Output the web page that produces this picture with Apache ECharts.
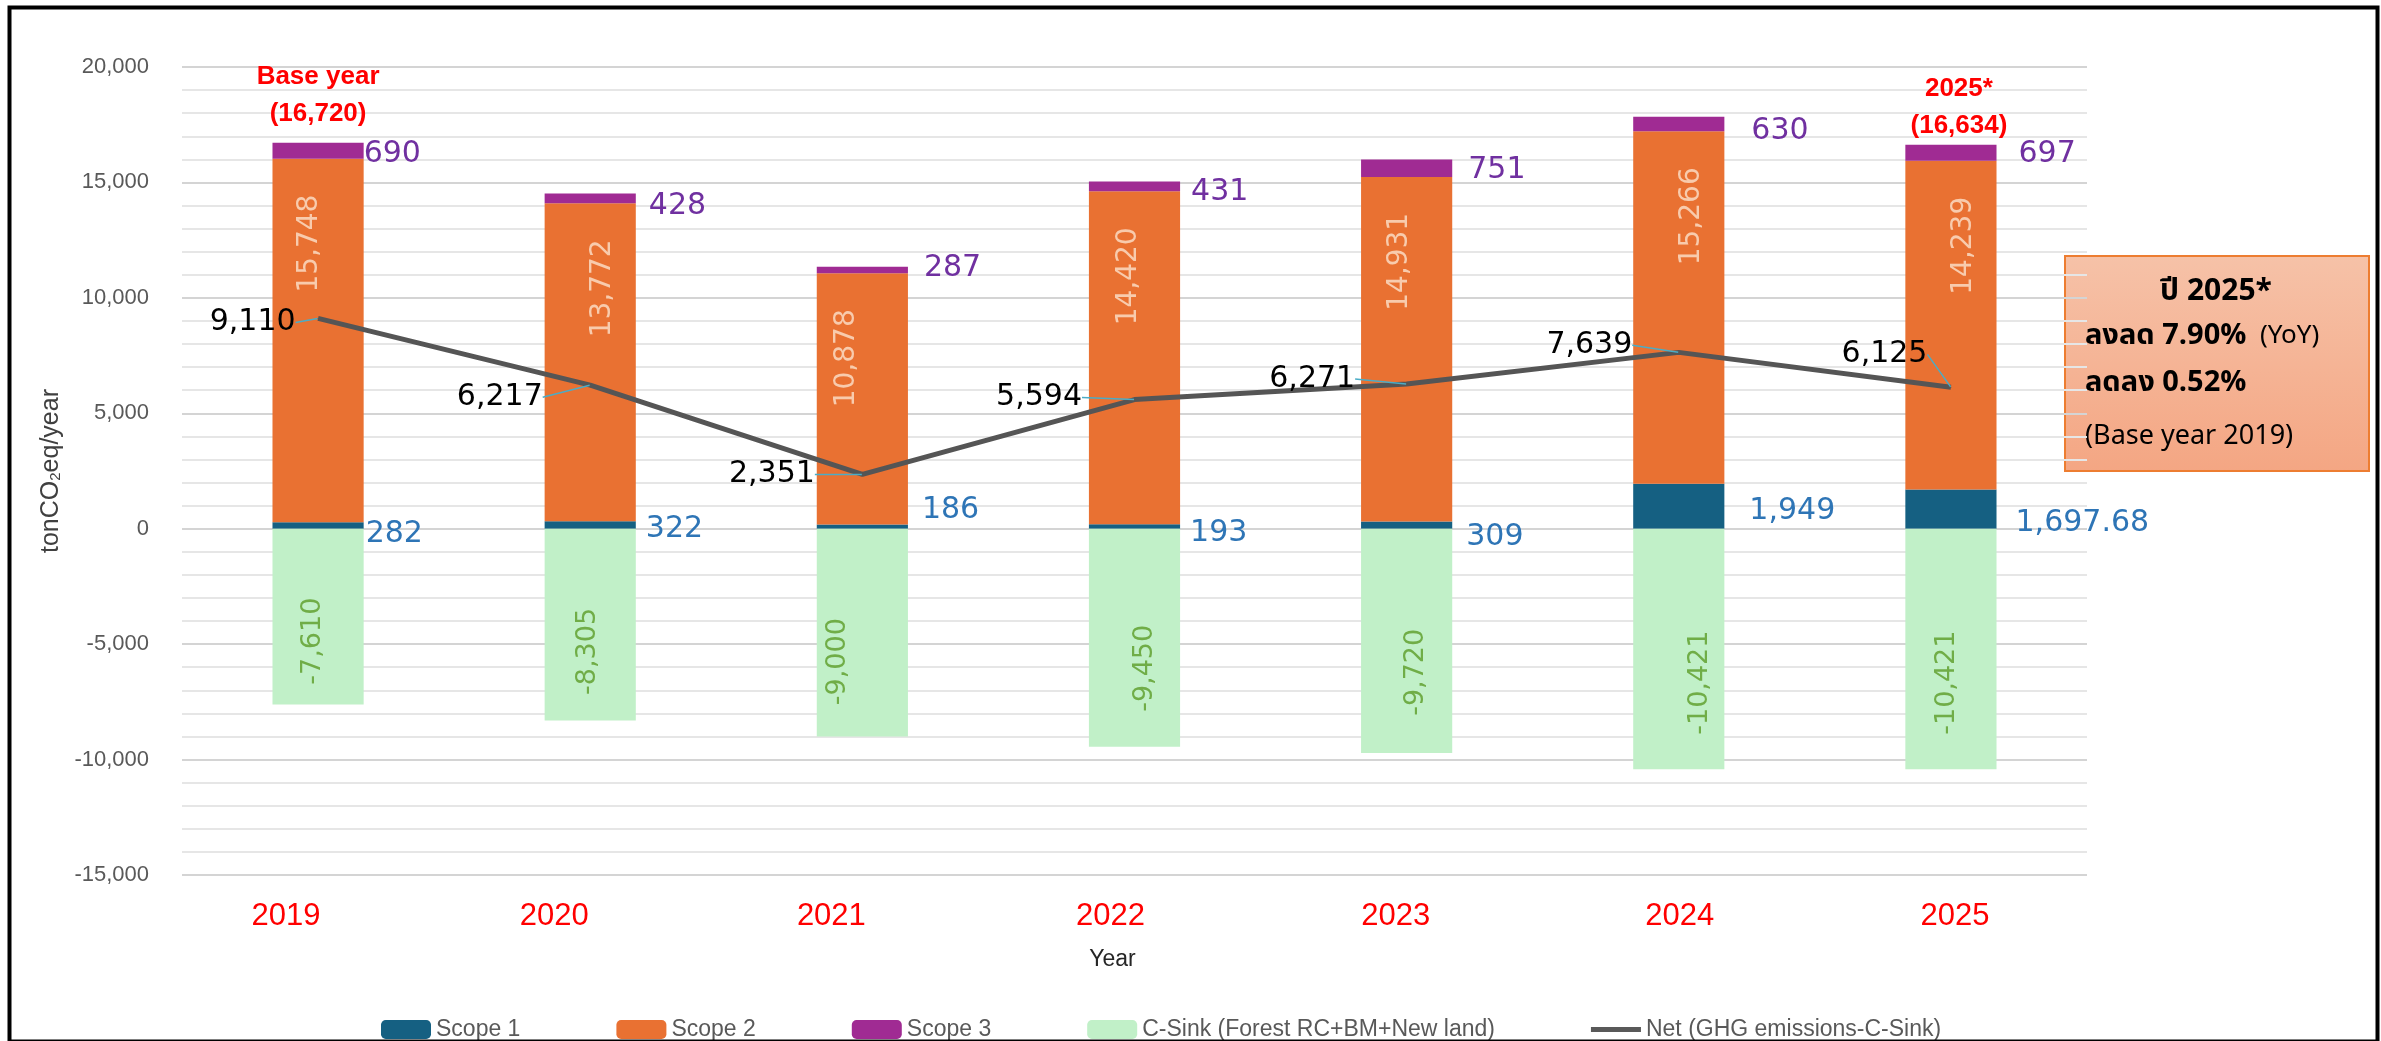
<!DOCTYPE html>
<html>
<head>
<meta charset="utf-8">
<script src="https://cdn.jsdelivr.net/npm/echarts@6/dist/echarts.min.js"></script>
<style>
html,body{margin:0;padding:0;background:#fff;}
#chart{width:2381px;height:1041px;}
</style>
</head>
<body>
<div id="chart"></div>
<script>
// ---- data ----
const categories = ['2019', '2020', '2021', '2022', '2023', '2024', '2025'];
const scope1 = [282, 322, 186, 193, 309, 1949, 1697.68];
const scope2 = [15748, 13772, 10878, 14420, 14931, 15266, 14239];
const scope3 = [690, 428, 287, 431, 751, 630, 697];
const cSink = [-7610, -8305, -9000, -9450, -9720, -10421, -10421];
const net = [9110, 6217, 2351, 5594, 6271, 7639, 6125];
const seriesNames = ['Scope 1', 'Scope 2', 'Scope 3', 'C-Sink (Forest RC+BM+New land)', 'Net (GHG emissions-C-Sink)'];
const yMin = -15000, yMax = 20000, yStep = 5000;
const noteTitle = 'ปี 2025*';
const noteLine1 = ['ลงลด 7.90%', '(YoY)'];
const noteLine2 = 'ลดลง 0.52%';
const noteLine3 = '(Base year 2019)';
const baseYearLabel = 'Base year';
const latestYearLabel = '2025*';

// ---- label nudges (style only, px) ----
const xLabelShift = [-32, -36, -31, -24, -11, 1, 4];
const s1Nudge = [[2, 9], [10, 4], [14, -16], [10, 7], [14, 12], [25, 5], [19, 14]];
const s2Nudge = [-8, 13, -16, -6, -7, 13, 13];
const s3Nudge = [[0, 4], [13, 8], [16, -2], [11, 6], [16, 2], [27, 7], [22, 1]];
const sinkNudge = [-5, -2, -24, 10, 9, 21, -4];
const netNudge = [[-22, 4], [-47, 12], [-47, 0], [-52, -2], [-51, -5], [-46, -7], [-23, -33]];

// ---- helpers ----
const fmt = v => Number(v).toLocaleString('en-US');
const totals = categories.map((c, i) => scope1[i] + scope2[i] + scope3[i]);

const chart = echarts.init(document.getElementById('chart'), null, {renderer: 'canvas'});

const numFont = '"DejaVu Sans", Verdana, sans-serif';
const txtFont = '"Liberation Sans", Arial, sans-serif';
const thaiFont = 'Tahoma, "Noto Sans Thai", "Noto Sans", "DejaVu Sans", sans-serif';

const xRich = {};
xLabelShift.forEach((s, i) => {
  xRich['c' + i] = {color: '#ff0000', fontFamily: txtFont, fontSize: 31,
    padding: s < 0 ? [0, -2 * s, 0, 0] : [0, 0, 0, 2 * s]};
});

const option = {
  backgroundColor: '#ffffff',
  animation: false,
  grid: {left: 182, right: 294, top: 67, bottom: 166, containLabel: false},
  legend: {
    left: 376, top: 1013,
    itemWidth: 50, itemHeight: 19, itemGap: 96,
    textStyle: {fontFamily: txtFont, fontSize: 23, color: '#595959'},
    data: [
      {name: seriesNames[0]}, {name: seriesNames[1]}, {name: seriesNames[2]}, {name: seriesNames[3]},
      {name: seriesNames[4], icon: 'path://M0 0H50V5H0Z'}
    ]
  },
  xAxis: {
    type: 'category', data: categories,
    axisLine: {show: false}, axisTick: {show: false},
    axisLabel: {margin: 26, formatter: (v, i) => '{c' + i + '|' + v + '}', rich: xRich},
    name: 'Year', nameLocation: 'middle', nameGap: 73,
    nameTextStyle: {fontFamily: txtFont, fontSize: 23, color: '#262626', padding: [0, 44, 0, 0]}
  },
  yAxis: {
    type: 'value', min: yMin, max: yMax, interval: yStep,
    axisLine: {show: false}, axisTick: {show: false},
    axisLabel: {color: '#595959', fontFamily: txtFont, fontSize: 22, margin: 33, formatter: v => fmt(v)},
    splitLine: {show: true, lineStyle: {color: '#d4d4d4', width: 2}},
    minorTick: {show: false, splitNumber: 5},
    minorSplitLine: {show: true, lineStyle: {color: '#e6e6e6', width: 2}},
    name: '{a|tonCO}{s|2}{a|eq/year}', nameLocation: 'middle', nameRotate: 90, nameGap: 118,
    nameTextStyle: {
      rich: {
        a: {fontFamily: txtFont, fontSize: 25, color: '#404040', lineHeight: 30, verticalAlign: 'bottom'},
        s: {fontFamily: txtFont, fontSize: 15, color: '#404040', verticalAlign: 'bottom', lineHeight: 19}
      }
    }
  },
  series: [
    {
      name: seriesNames[0], type: 'bar', stack: 'total', data: scope1, barWidth: '33.5%',
      itemStyle: {color: '#156082'},
      label: {show: true, position: 'right', distance: 0, color: '#2e75b6',
        fontFamily: numFont, fontSize: 30, formatter: p => fmt(p.value)},
      labelLayout: p => ({dx: s1Nudge[p.dataIndex][0], dy: s1Nudge[p.dataIndex][1]})
    },
    {
      name: seriesNames[1], type: 'bar', stack: 'total', data: scope2,
      itemStyle: {color: '#e97132'},
      label: {show: true, position: ['50%', 36], rotate: 90, align: 'right', verticalAlign: 'middle',
        color: '#f8cbad', fontFamily: numFont, fontSize: 28, formatter: p => fmt(p.value)},
      labelLayout: p => ({dy: s2Nudge[p.dataIndex]})
    },
    {
      name: seriesNames[2], type: 'bar', stack: 'total', data: scope3,
      itemStyle: {color: '#a02b93'},
      label: {show: true, position: 'right', distance: 0, color: '#7030a0',
        fontFamily: numFont, fontSize: 30, formatter: p => fmt(p.value)},
      labelLayout: p => ({dx: s3Nudge[p.dataIndex][0], dy: s3Nudge[p.dataIndex][1]}),
      markPoint: {
        symbol: 'rect', symbolSize: 1, itemStyle: {color: 'rgba(0,0,0,0)'},
        label: {show: true, position: 'top', distance: 10, color: '#ff0000', fontWeight: 'bold',
          fontFamily: txtFont, fontSize: 26, lineHeight: 37, align: 'center'},
        data: [
          {coord: [categories[0], totals[0]], value: totals[0],
            label: {formatter: baseYearLabel + '\n(' + fmt(Math.round(totals[0])) + ')'}},
          {coord: [categories[6], totals[6]], value: totals[6],
            label: {distance: 0, offset: [8, 0], formatter: latestYearLabel + '\n(' + fmt(Math.round(totals[6])) + ')'}}
        ]
      }
    },
    {
      name: seriesNames[3], type: 'bar', stack: 'total', data: cSink,
      itemStyle: {color: '#c1f0c8'},
      label: {show: true, position: ['50%', '64%'], rotate: 90, align: 'center', verticalAlign: 'middle',
        color: '#70ad47', fontFamily: numFont, fontSize: 27, formatter: p => fmt(p.value)},
      labelLayout: p => ({dy: sinkNudge[p.dataIndex]})
    },
    {
      name: seriesNames[4], type: 'line', data: net,
      symbol: 'circle', symbolSize: 1, showSymbol: true,
      lineStyle: {color: '#555555', width: 5},
      itemStyle: {color: '#595959'},
      label: {show: true, position: 'left', distance: 0, color: '#000000',
        fontFamily: numFont, fontSize: 30, formatter: p => fmt(p.value)},
      labelLayout: p => ({dx: netNudge[p.dataIndex][0], dy: netNudge[p.dataIndex][1]}),
      labelLine: {show: true, lineStyle: {color: '#4bacc6', width: 1.5}},
      z: 5
    }
  ],
  graphic: [
    {
      type: 'rect', left: 7, top: 5, z: 100, silent: true,
      shape: {width: 2368, height: 1034},
      style: {fill: null, stroke: '#000000', lineWidth: 4}
    },
    {
      type: 'group', left: 2064, top: 255, z: 50,
      children: [
        {type: 'rect', shape: {x: 0, y: 0, width: 304, height: 215},
          style: {fill: new echarts.graphic.LinearGradient(0, 0, 0, 1, [
            {offset: 0, color: '#f6c2a8'}, {offset: 1, color: '#f4a683'}]),
            stroke: '#ed7d31', lineWidth: 2}},
        {type: 'text', x: 151, y: 38, style: {text: noteTitle, fill: '#000', font: 'bold 30px ' + thaiFont, textAlign: 'center', textVerticalAlign: 'middle'}},
        {type: 'text', x: 20, y: 82, style: {
          text: '{b|' + noteLine1[0] + '}{r|  ' + noteLine1[1] + '}',
          textVerticalAlign: 'middle',
          rich: {b: {font: 'bold 29px ' + thaiFont, fill: '#000'}, r: {font: '26px ' + thaiFont, fill: '#000'}}}},
        {type: 'text', x: 20, y: 129, style: {
          text: noteLine2, fill: '#000', font: 'bold 29px ' + thaiFont, textVerticalAlign: 'middle'}},
        {type: 'text', x: 20, y: 183, style: {
          text: noteLine3, fill: '#000', font: '27px ' + thaiFont, textVerticalAlign: 'middle'}}
      ]
    }
  ]
};
chart.setOption(option);
</script>
</body>
</html>
